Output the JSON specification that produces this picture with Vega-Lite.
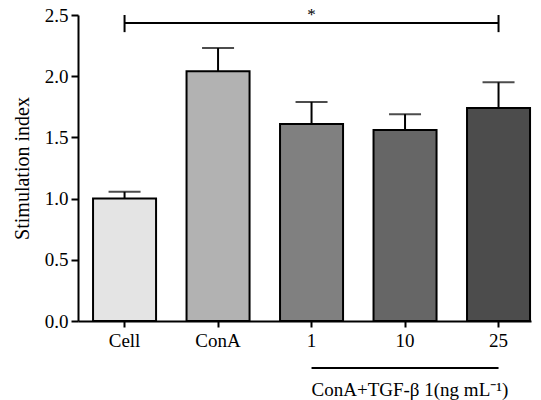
{
  "$schema": "https://vega.github.io/schema/vega-lite/v6.json",
  "width": 453,
  "height": 306,
  "autosize": {"type": "none"},
  "padding": {"left": 78, "top": 15, "right": 10, "bottom": 79},
  "background": "white",
  "config": {
    "view": {"stroke": null},
    "font": "Liberation Serif",
    "axis": {"grid": false, "domainColor": "black", "tickColor": "black", "labelColor": "black", "titleColor": "black", "domainWidth": 2, "tickWidth": 2, "labelFont": "Liberation Serif", "titleFont": "Liberation Serif", "labelFontSize": 19, "titleFontSize": 20, "titleFontWeight": "normal", "labelFontWeight": "normal"}
  },
  "datasets": {
    "bars": [
      {"group": "Cell", "value": 1.0, "upper": 1.055},
      {"group": "ConA", "value": 2.04, "upper": 2.23},
      {"group": "1", "value": 1.61, "upper": 1.79},
      {"group": "10", "value": 1.56, "upper": 1.69},
      {"group": "25", "value": 1.74, "upper": 1.95}
    ],
    "sig": [{"from": "Cell", "to": "25", "y": 2.435, "label": "*", "mid": "1", "ystar": 2.5}],
    "sigcaps": [{"group": "Cell", "lo": 2.36, "hi": 2.5}, {"group": "25", "lo": 2.36, "hi": 2.5}],
    "bottom": [{"from": "1", "to": "25", "y": -0.385, "ytext": -0.565, "label": "ConA+TGF-β 1(ng mL⁻¹)"}]
  },
  "layer": [
    {
      "data": {"name": "bars"},
      "mark": {"type": "bar", "stroke": "black", "strokeWidth": 2},
      "encoding": {
        "x": {"field": "group", "type": "nominal", "sort": ["Cell", "ConA", "1", "10", "25"],
          "scale": {"domain": ["Cell", "ConA", "1", "10", "25"], "paddingInner": 0.326, "paddingOuter": 0.0856, "align": 0.94},
          "axis": {"title": null, "labelAngle": 0, "tickSize": 6, "labelPadding": 4}},
        "y": {"field": "value", "type": "quantitative",
          "scale": {"domain": [0, 2.5], "nice": false, "zero": true},
          "axis": {"title": "Stimulation index", "values": [0, 0.5, 1, 1.5, 2, 2.5], "format": ".1f", "tickSize": 7, "labelPadding": 3, "titlePadding": 12}},
        "fill": {"field": "group", "type": "nominal", "legend": null,
          "scale": {"domain": ["Cell", "ConA", "1", "10", "25"], "range": ["#e4e4e4", "#b2b2b2", "#808080", "#666666", "#4c4c4c"]}}
      }
    },
    {
      "data": {"name": "bars"},
      "mark": {"type": "rule", "color": "black", "strokeWidth": 2},
      "encoding": {
        "x": {"field": "group", "type": "nominal", "sort": ["Cell", "ConA", "1", "10", "25"]},
        "y": {"field": "value", "type": "quantitative"},
        "y2": {"field": "upper"}
      }
    },
    {
      "data": {"name": "bars"},
      "mark": {"type": "tick", "color": "black", "thickness": 2, "size": 32, "orient": "horizontal"},
      "encoding": {
        "x": {"field": "group", "type": "nominal", "sort": ["Cell", "ConA", "1", "10", "25"]},
        "y": {"field": "upper", "type": "quantitative"}
      }
    },
    {
      "data": {"name": "sig"},
      "mark": {"type": "rule", "color": "black", "strokeWidth": 2},
      "encoding": {
        "x": {"field": "from", "type": "nominal"},
        "x2": {"field": "to"},
        "y": {"field": "y", "type": "quantitative"}
      }
    },
    {
      "data": {"name": "sigcaps"},
      "mark": {"type": "rule", "color": "black", "strokeWidth": 2},
      "encoding": {
        "x": {"field": "group", "type": "nominal"},
        "y": {"field": "lo", "type": "quantitative"},
        "y2": {"field": "hi"}
      }
    },
    {
      "data": {"name": "sig"},
      "mark": {"type": "text", "fontSize": 17, "font": "Liberation Serif", "color": "black", "baseline": "middle", "align": "center"},
      "encoding": {
        "x": {"field": "mid", "type": "nominal"},
        "y": {"field": "ystar", "type": "quantitative"},
        "text": {"field": "label"}
      }
    },
    {
      "data": {"name": "bottom"},
      "mark": {"type": "rule", "color": "black", "strokeWidth": 2, "clip": false},
      "encoding": {
        "x": {"field": "from", "type": "nominal"},
        "x2": {"field": "to"},
        "y": {"field": "y", "type": "quantitative"}
      }
    },
    {
      "data": {"name": "bottom"},
      "mark": {"type": "text", "fontSize": 19, "font": "Liberation Serif", "color": "black", "baseline": "middle", "align": "left"},
      "encoding": {
        "x": {"field": "from", "type": "nominal"},
        "y": {"field": "ytext", "type": "quantitative"},
        "text": {"field": "label"}
      }
    }
  ]
}
